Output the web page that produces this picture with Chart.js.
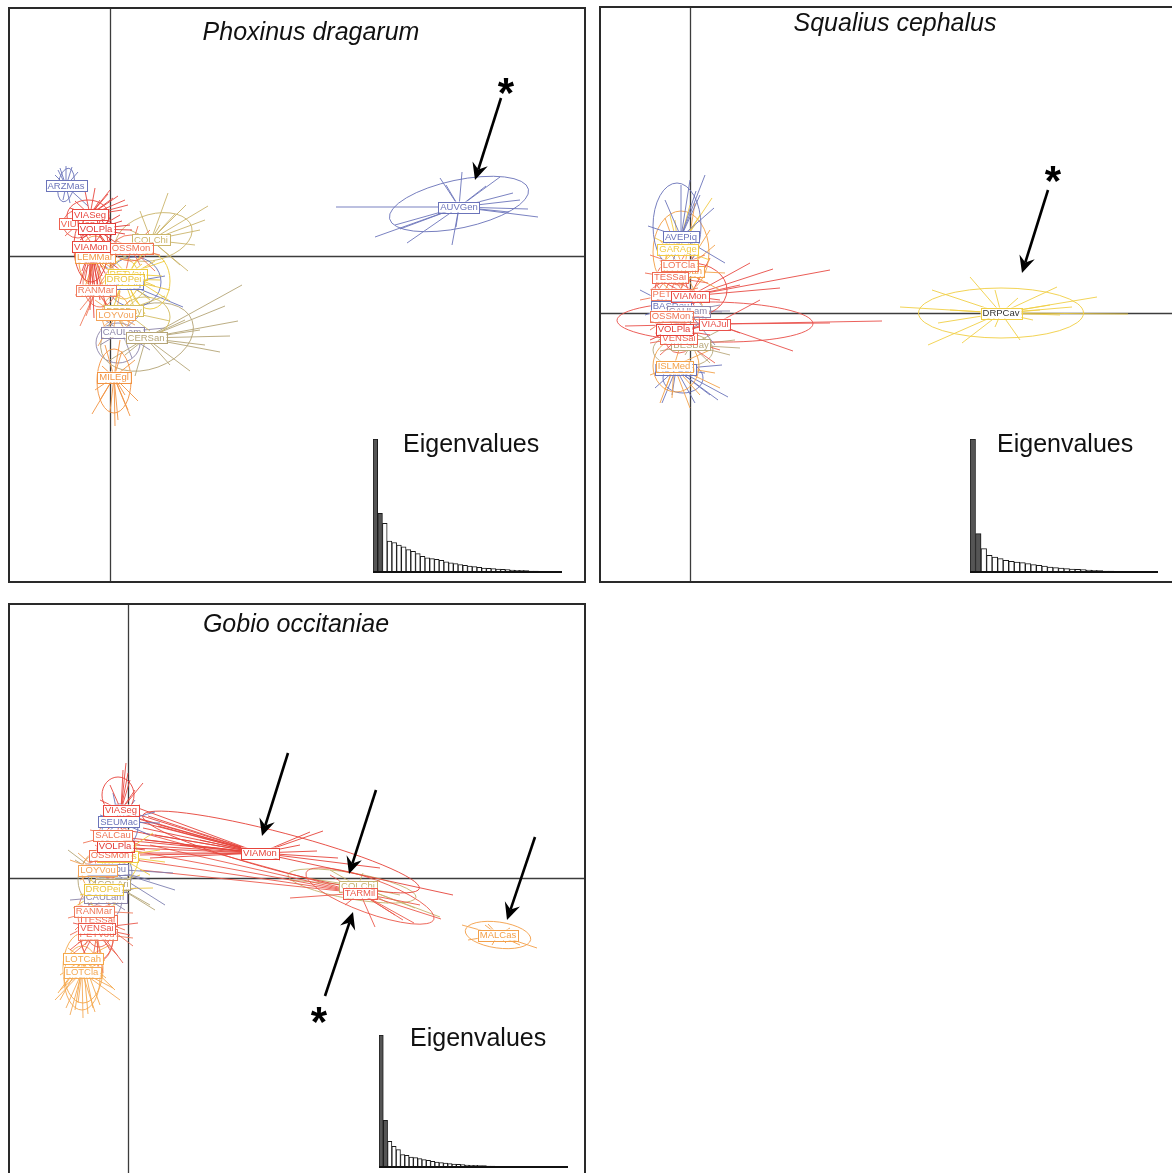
<!DOCTYPE html>
<html>
<head>
<meta charset="utf-8">
<script src="https://cdn.jsdelivr.net/npm/chart.js@4.4.1/dist/chart.umd.min.js"></script>
<style>
  html, body { margin: 0; padding: 0; background: #fff; overflow: hidden; width: 1172px; height: 1173px; }
  canvas { position: absolute; display: block; }
</style>
</head>
<body>
<canvas id="pd" width="578" height="576" style="left:8px;top:7px"></canvas>
<canvas id="sc" width="573" height="577" style="left:599px;top:6px"></canvas>
<canvas id="go" width="578" height="570" style="left:8px;top:603px"></canvas>
<canvas id="pdEig" width="200" height="150" style="left:370px;top:425px"></canvas>
<canvas id="scEig" width="200" height="150" style="left:966px;top:425px"></canvas>
<canvas id="goEig" width="200" height="150" style="left:376px;top:1021px"></canvas>
<script>
// ---------- Phoxinus dragarum ----------
const p1Groups = ['AUVGen','ARZMas','COLChi','CAULam','CERSan','MILEgl','AVEPiq','PETVou','DROPei','BESBay','LOYVou','RANMar','LEMMar','OSSMon','VIUMon','VIASeg','VOLPla','VIAMon'];
const p1Centroids = [[34.9,4.9],[-4.4,7.0],[4.1,1.6],[1.2,-7.6],[3.6,-8.2],[0.4,-12.1],[1.5,-2.7],[1.7,-1.8],[1.4,-2.3],[1.4,-5.5],[0.6,-5.9],[-1.4,-3.4],[-1.5,-0.1],[2.1,0.8],[-3.2,3.2],[-2.0,4.1],[-1.4,2.7],[-1.9,0.9]];
// [centre x, centre y, semi-axis 1, semi-axis 2, rotation in degrees]
const p1Ellipses = [[34.9,5.2,7.1,2.4,12],[-4.4,7.1,0.8,1.7,-10],[4.4,1.9,3.9,2.3,15],[0.8,-8.7,2.2,2.0,0],[3.7,-8.1,4.8,3.2,20],[0.4,-12.5,1.7,3.2,0],[2.4,-2.6,2.7,2.5,0],[4.0,-2.5,2.0,2.8,0],[1.4,-2.3,1.5,2.0,0],[3.5,-6.1,2.5,2.0,0],[0.6,-5.9,1.4,2.0,0],[-1.0,-2.7,1.7,2.4,0],[-1.5,-0.5,1.6,2.5,0],[2.1,0.8,1.8,1.3,0],[-3.2,3.2,1.5,1.4,0],[-2.2,4.0,2.1,1.6,0],[-1.4,2.7,1.6,2.0,0],[-1.9,0.9,1.7,3.5,0]];
const p1Points = [
  [[22.6,4.9],[42.8,3.9],[26.5,1.9],[29.7,1.3],[35.2,8.4],[34.2,1.1],[39.0,7.9],[37.6,7.0],[40.3,6.3],[41.0,5.6],[41.8,4.7],[39.9,4.4],[28.5,3.1],[29.0,2.7],[33.6,7.1],[33.0,7.8],[34.6,2.9]],
  [[-5.0,8.8],[-3.8,8.9],[-3.2,8.4],[-5.5,8.1],[-4.7,5.6],[-4.0,5.3],[-2.2,5.0],[-5.2,8.6],[-4.4,9.0]],
  [[5.8,6.3],[9.5,3.6],[8.5,1.1],[7.0,-0.9],[2.0,2.6],[1.0,-0.4],[7.6,5.1],[5.0,3.1],[6.5,4.2],[9.0,2.6],[9.8,5.0],[3.0,4.5],[7.8,-1.5]],
  [[4.0,-9.4],[-1.0,-8.9],[3.0,-5.9],[-0.5,-6.4],[2.2,-10.2],[5.5,-7.2]],
  [[13.2,-2.9],[11.0,-9.6],[9.0,-7.4],[7.5,-6.4],[0.0,-10.4],[1.5,-9.9],[9.5,-8.9],[6.0,-10.9],[11.5,-5.0],[12.8,-6.5],[2.5,-12.0],[8.0,-11.5],[12.0,-8.0]],
  [[0.8,-16.4],[0.0,-15.6],[1.8,-15.4],[-1.0,-14.4],[1.0,-8.4],[-0.5,-8.9],[2.5,-10.4],[-1.5,-13.4],[1.5,-13.9],[2.0,-16.0],[-0.8,-11.0],[0.5,-17.0],[2.8,-14.5],[-1.8,-15.8],[1.2,-9.5]],
  [[7.3,-5.1],[5.5,-2.0],[-0.5,-1.0],[4.0,-4.2]],
  [[5.5,-0.5],[6.0,-4.5],[4.5,-3.0],[0.0,0.0],[3.5,0.5],[5.2,-2.0]],
  [[4.0,-4.4],[-1.0,-0.9],[5.0,-2.4],[2.5,-5.4],[0.5,-4.4],[6.0,-3.4],[3.2,-0.8],[4.5,-0.5],[0.0,-6.0],[3.5,-5.8]],
  [[5.5,-4.0],[6.0,-6.5],[4.0,-7.5],[-0.5,-5.0],[3.5,-3.5]],
  [[-1.0,-7.4],[2.0,-4.4],[-1.5,-4.4],[2.5,-6.9],[0.2,-8.2],[1.8,-8.0],[-1.2,-9.0],[3.0,-8.5],[1.0,-3.5]],
  [[-3.0,-5.4],[0.5,-0.4],[-2.0,-1.4],[0.0,-5.4],[-3.5,-3.9],[-2.4,-6.0],[0.6,-2.8],[-3.0,-7.0],[1.0,-6.5],[-1.0,-1.0]],
  [[-3.0,-0.6],[0.5,-1.4],[-1.5,1.6],[-3.5,0.6],[-2.2,-2.8],[-0.6,-3.5],[0.8,-2.4],[-2.8,-4.0],[1.5,0.5]],
  [[4.0,2.6],[3.0,-0.9],[0.5,1.6],[5.0,0.1],[1.5,-1.9],[3.6,1.4],[4.5,-1.5],[2.8,3.0],[5.5,1.2]],
  [[-4.5,2.0],[-1.5,4.5],[-3.8,4.4],[-2.0,1.5],[-4.2,3.6]],
  [[0.0,6.6],[0.8,6.0],[1.8,5.1],[-4.0,4.8],[-2.0,2.0],[-1.0,5.6],[-3.0,3.1],[1.2,4.6],[-0.2,6.2],[-1.5,6.8],[0.3,5.8],[-3.5,5.5],[1.5,5.6],[-2.5,6.5]],
  [[1.0,4.1],[-0.2,0.6],[-3.0,1.6],[2.0,3.1],[-1.5,-0.9],[-2.5,4.1],[1.5,2.2],[0.4,0.2],[1.2,3.5],[-0.5,4.5],[-2.8,2.0],[0.8,1.2],[2.2,2.6]],
  [[-1.5,-3.4],[-1.0,-4.4],[-2.5,-2.4],[1.0,-1.4],[-3.2,-0.4],[-0.5,2.6],[-2.0,-5.4],[-1.2,-3.0],[-2.8,-1.5],[0.5,0.0],[-0.8,-2.0],[-2.2,-4.0],[0.2,-3.0],[-3.0,-2.8],[-1.6,-6.2],[-0.4,-5.0]]
];
const p1Colors = ['#6b74ba','#6b74ba','#cbb56c','#8d86aa','#b5a577','#f29443','#6b74ba','#eecb3e','#ebc43d','#d4bd62','#f3a257','#ef7b5d','#f39c48','#f07252','#ee6150','#e8473f','#e23a36','#e6443b'];
const p1Eigen = [39.7,17.5,14.5,9.2,8.8,8.0,7.5,6.7,6.2,5.5,4.7,4.2,4.0,3.8,3.5,3.0,2.7,2.5,2.2,2.0,1.8,1.6,1.4,1.2,1.1,1.0,0.9,0.8,0.7,0.6,0.5,0.5,0.4,0.3,0.3,0.2,0.2,0.2,0.1,0.1];
const p1Arrows = [[39.1,15.8,36.5,7.6]];
const p1Stars = [[39.6,17.0]];

// ---------- Squalius cephalus ----------
const p2Groups = ['DRPCav','AUVGen','ISLMed','BESBay','VENSai','VOLPla','VIAJul','BASDou','CAULam','OSSMon','PETVou','VIAMon','LOTCah','TESSai','LOTCla','GARAge','AVEPiq'];
const p2Centroids = [[31.1,0.0],[-1.4,-5.6],[-1.6,-5.3],[0.1,-3.2],[-1.1,-2.5],[-1.6,-1.6],[2.5,-1.1],[-1.9,0.7],[-0.2,0.2],[-1.9,-0.3],[-2.0,1.9],[0.0,1.7],[-0.6,4.2],[-2.0,3.6],[-1.1,4.8],[-1.2,6.4],[-0.9,7.6]];
const p2Ellipses = [[31.1,0.0,8.25,2.5,0],[-0.7,-6.5,2.0,1.5,0],[-1.4,-5.3,2.3,2.6,0],[-0.7,-3.7,3.0,1.7,0],[-1.1,-2.5,1.4,1.5,0],[-1.6,-1.6,1.3,1.4,0],[2.5,-0.9,9.8,2.0,-1],[-1.9,0.5,1.3,1.2,0],[-0.2,0.0,1.6,1.5,0],[-1.9,-0.3,1.3,1.4,0],[-2.0,1.8,1.2,1.4,0],[0.1,2.3,3.6,2.7,0],[-0.9,6.1,2.8,4.1,0],[-2.0,3.4,1.4,1.6,0],[-1.1,4.6,1.5,1.8,0],[-0.8,5.5,1.6,2.4,0],[-1.3,8.7,2.4,4.3,0]];
const p2Points = [
  [[21.0,0.6],[24.2,2.3],[28.0,3.6],[30.5,2.3],[32.8,1.5],[36.7,2.6],[40.7,1.6],[38.2,0.6],[43.8,-0.1],[35.0,0.3],[34.3,-0.7],[33.0,-2.7],[30.5,-1.4],[27.2,-3.0],[23.8,-3.2],[24.8,-1.0],[29.0,-0.4],[26.0,0.3],[36.0,0.8],[37.0,-0.2]],
  [[2.0,-8.2],[2.8,-8.7],[-1.8,-8.2],[-3.5,-7.5],[1.5,-6.0],[3.2,-5.2],[0.5,-9.0],[3.8,-8.4],[-2.8,-9.0]],
  [[-2.5,-7.7],[1.0,-8.2],[-4.0,-6.2],[2.0,-3.7],[-0.5,-1.7],[-1.8,-8.5],[2.5,-6.0],[-3.0,-9.0],[0.0,-9.5],[3.0,-7.5]],
  [[4.5,-2.7],[4.0,-4.2],[-0.5,-4.2],[3.0,-1.7],[5.0,-3.5],[-3.0,-3.8],[2.0,-5.0]],
  [[3.0,-3.7],[-3.0,-4.2],[1.0,-1.2],[-3.5,-2.0],[2.5,-5.0],[-4.0,-3.0]],
  [[-4.0,-2.7],[1.0,-3.2],[-2.5,0.3],[0.5,-0.5],[-4.0,-0.8],[2.0,-2.2]],
  [[19.2,-0.8],[10.3,-3.8],[5.0,-2.0],[-4.0,-0.7],[-1.0,-1.7],[7.0,1.3],[14.0,-1.0],[1.0,-0.2],[-3.0,-2.2],[-6.5,-1.3]],
  [[-5.0,2.3],[-2.0,-0.7],[-4.5,-0.2],[0.5,1.0]],
  [[3.0,0.8],[3.2,0.1],[2.5,-3.2],[-3.0,1.3],[4.0,0.2]],
  [[-4.0,-1.7],[1.0,-0.7],[-3.0,1.3],[0.2,-2.4]],
  [[-5.0,1.3],[-1.5,3.3],[-3.5,-0.2],[0.8,2.5]],
  [[8.3,4.4],[14.0,4.3],[5.0,2.8],[-3.0,3.3],[1.0,-0.7],[-1.0,4.8],[3.0,1.3],[9.0,2.5],[-2.0,0.5],[6.0,5.0],[-3.5,2.0],[2.0,5.5]],
  [[2.0,8.3],[3.0,2.3],[-1.0,1.3],[1.5,0.3],[-3.0,7.3],[2.5,6.8],[-3.3,3.0],[0.5,11.0],[-2.5,9.5],[3.5,4.0]],
  [[-4.0,2.3],[0.5,4.8],[-3.0,5.3],[1.0,1.8],[-4.5,4.0],[1.8,3.0]],
  [[-4.0,5.8],[1.0,3.3],[-2.5,2.3],[0.0,6.8],[1.5,5.8]],
  [[0.0,10.8],[1.0,9.8],[-2.0,9.8],[2.0,5.3],[-3.0,4.8],[0.5,8.8],[-1.5,9.3],[2.2,11.5],[-3.5,7.5]],
  [[1.5,13.8],[0.0,13.3],[-0.9,12.8],[-4.2,8.7],[3.5,5.0],[1.0,11.8],[-2.5,11.3],[-2.0,4.3],[0.6,12.2],[2.4,10.5]]
];
const p2Colors = ['#f1cf46','#6b74ba','#f3a24a','#b9a97c','#ec6452','#e4403a','#e9504a','#6b74ba','#8d86aa','#ef7556','#f07a5c','#e84a44','#f3a24a','#ee6a52','#f07556','#f2cb45','#6b74ba'];
const p2LabelInk = { DRPCav: '#333333' };
const p2Eigen = [39.8,11.5,7.0,5.0,4.5,4.0,3.5,3.2,3.0,2.8,2.5,2.2,2.0,1.8,1.5,1.3,1.2,1.0,0.9,0.8,0.7,0.6,0.5,0.4,0.3,0.3,0.2,0.2,0.1,0.1,0.1,0.1,0.1,0.1];
const p2Arrows = [[35.8,12.3,33.2,4.0]];
const p2Stars = [[36.3,13.9]];

// ---------- Gobio occitaniae ----------
const p3Groups = ['MALCas','COLChi','TARMil','VIAMon','LOTCla','LOTCah','PETVou','TESSai','VENSai','RANMar','CAULam','COLAri','DROPei','BESBou','LOYVou','DURNes','OSSMon','VOLPla','SALCau','SEUMac','VIASeg'];
const p3Centroids = [[37.0,-5.7],[23.0,-0.8],[23.2,-1.5],[13.2,2.5],[-4.6,-9.4],[-4.5,-8.1],[-3.1,-5.6],[-2.9,-4.2],[-3.1,-5.0],[-3.4,-3.3],[-2.3,-1.9],[-1.5,-0.6],[-2.5,-1.1],[-2.0,0.9],[-3.0,0.8],[-1.0,2.2],[-1.8,2.3],[-1.3,3.2],[-1.5,4.3],[-0.9,5.6],[-0.7,6.8]];
const p3Ellipses = [[37.0,-5.7,3.3,1.3,-8],[22.4,-0.8,6.5,1.3,-10],[24.2,-1.8,6.8,1.7,-20],[15.3,2.6,14.3,1.9,-14.8],[-4.6,-10.0,1.8,3.2,0],[-4.5,-9.0,2.0,3.5,0],[-3.1,-6.0,1.6,2.4,0],[-2.9,-4.5,1.5,2.4,0],[-3.1,-5.5,1.7,2.8,0],[-3.4,-3.6,1.6,2.6,0],[-2.3,-2.1,1.7,2.2,0],[-2.5,-0.2,2.5,2.8,0],[-2.5,-1.3,1.5,2.0,0],[-1.8,0.5,2.2,2.5,0],[-3.0,0.6,1.6,2.0,0],[-0.8,2.0,1.8,2.4,0],[-1.8,2.0,1.5,2.0,0],[-1.3,3.0,1.4,2.2,0],[-1.5,4.0,1.5,1.8,0],[-0.8,5.2,1.8,2.2,0],[-1.0,8.3,1.6,1.8,0]];
const p3Points = [
  [[33.4,-4.7],[40.9,-7.0],[34.0,-6.2],[35.7,-4.7],[38.2,-5.0],[39.2,-6.7],[36.4,-6.7],[37.8,-6.5],[36.0,-4.6]],
  [[17.2,0.1],[16.2,-0.2],[28.7,-3.0],[31.2,-3.9],[27.2,-1.7],[20.2,0.8],[25.2,-0.2],[23.5,0.5],[26.0,-2.5]],
  [[28.6,-4.5],[24.7,-4.9],[31.3,-4.1],[16.2,-2.0],[0.2,2.8],[0.7,1.8],[1.2,0.8],[2.2,3.3],[29.2,-2.7],[20.2,0.3],[21.7,-2.7],[26.7,-3.7],[27.5,-4.2],[1.5,4.5]],
  [[0.2,6.6],[0.7,6.0],[1.2,5.6],[-0.3,4.8],[0.2,4.0],[1.7,3.8],[0.7,3.3],[1.2,2.3],[2.2,2.0],[0.2,3.0],[2.7,4.3],[19.5,4.7],[18.2,4.6],[25.2,1.0],[32.5,-1.7],[18.9,2.7],[17.2,3.3],[15.2,1.8],[5.2,3.3],[7.2,3.8],[3.0,5.2],[1.0,7.0],[21.0,2.0],[-0.8,6.5],[1.5,5.0],[2.0,6.2],[0.5,2.5],[-0.5,3.8]],
  [[-5.8,-13.7],[-3.3,-13.4],[-0.8,-12.2],[-6.8,-11.2],[-2.3,-8.2],[-7.3,-12.2],[-4.5,-14.0],[-5.0,-12.5],[-1.5,-11.0],[-6.2,-13.0]],
  [[-6.8,-12.2],[-5.3,-13.2],[-2.8,-12.7],[-1.3,-11.2],[-6.8,-9.7],[-1.8,-6.7],[-6.3,-10.7],[-3.5,-13.0],[-7.0,-11.5],[-2.2,-10.0],[-4.0,-13.6],[-6.0,-7.0]],
  [[-5.0,-6.5],[-1.0,-7.8],[0.5,-6.0],[-4.0,-4.0],[-2.5,-9.5],[-6.0,-8.0]],
  [[-5.8,-5.7],[-0.3,-5.2],[-4.3,-6.7],[-1.5,-3.0],[-3.5,-8.0],[0.5,-6.8]],
  [[0.2,-5.7],[-5.8,-7.2],[-1.8,-7.2],[-4.8,-8.2],[1.0,-4.5],[-0.5,-8.5],[-5.5,-4.5],[-3.0,-9.0]],
  [[-5.3,-5.2],[-1.3,-4.7],[-4.8,-2.7],[-0.8,-2.2],[-2.0,-6.0],[-6.0,-4.0],[0.5,-3.5]],
  [[-5.8,-2.2],[-0.3,-3.2],[-4.3,-3.7],[0.8,-1.0]],
  [[-4.3,0.8],[-5.3,1.8],[2.2,-2.7],[2.7,-3.2],[-3.3,-2.2],[-6.0,2.8]],
  [[0.2,-1.2],[-4.8,-1.7],[-1.8,-2.7],[1.2,0.3],[-4.0,0.0],[-5.5,-3.0],[2.5,-1.0]],
  [[4.7,-1.2],[3.7,-2.7],[2.2,-0.2],[-1.8,-0.2],[4.5,0.5]],
  [[-5.8,1.8],[-4.8,-0.2],[-0.8,0.3],[-3.3,-1.2],[-5.0,2.5]],
  [[3.2,2.8],[2.2,0.3],[-1.3,1.8],[3.7,1.6],[2.5,4.5]],
  [[-4.3,1.3],[1.2,1.8],[-3.3,3.3],[-2.0,0.5]],
  [[-3.8,2.3],[1.7,2.8],[-2.8,4.3],[-0.8,1.3],[0.5,4.0]],
  [[-3.8,4.8],[1.2,3.3],[-2.8,2.8],[0.2,5.3],[-4.5,3.5]],
  [[2.7,6.6],[-2.8,6.3],[2.2,4.3],[-2.3,4.3],[0.7,7.8],[3.2,5.5],[-1.5,8.5]],
  [[0.0,10.5],[-1.8,9.3],[0.7,8.8],[-2.8,7.8],[1.2,7.3],[-1.0,4.8],[0.2,9.8],[-0.5,10.8],[-0.2,11.5],[1.5,9.5]]
];
const p3Colors = ['#f3a04a','#c6b36e','#ec5a4c','#e6443b','#f4aa56','#f5a84a','#f07a5c','#ee6a52','#e9574a','#ef7b5d','#8d86aa','#b5a577','#ebc43d','#7d80b0','#f3a257','#eecb3e','#f07252','#e23a36','#ef7556','#6b74ba','#e8473f'];
const p3Eigen = [39.5,14.0,7.7,6.2,5.2,3.7,3.5,3.0,2.8,2.5,2.2,2.0,1.7,1.5,1.3,1.2,1.0,0.9,0.8,0.7,0.6,0.5,0.5,0.4,0.4,0.3,0.3,0.2,0.2,0.2,0.1,0.1,0.1,0.1,0.1,0.1,0.05,0.05,0.05,0.05,0.05,0.05,0.05,0.05];
const p3Arrows = [[16.0,12.5,13.4,4.2],[24.8,8.8,22.1,0.4],[40.7,4.1,37.9,-4.2],[19.7,-11.8,22.5,-3.4]];
const p3Stars = [[19.1,-13.7]];

// ---------- drawing ----------
const FONT = '"Liberation Sans", Arial, Helvetica, sans-serif';
Chart.defaults.font.family = FONT;

function seg(ctx, x1, y1, x2, y2) {
  ctx.beginPath(); ctx.moveTo(x1, y1); ctx.lineTo(x2, y2); ctx.stroke();
}

function arrow(ctx, x1, y1, x2, y2) {
  const ang = Math.atan2(y2 - y1, x2 - x1);
  const L = 17, W = 8, N = 11;
  const bx = x2 - Math.cos(ang) * N, by = y2 - Math.sin(ang) * N;
  ctx.lineWidth = 2.6; ctx.strokeStyle = '#000'; ctx.fillStyle = '#000';
  seg(ctx, x1, y1, bx, by);
  const cx = x2 - Math.cos(ang) * L, cy = y2 - Math.sin(ang) * L;
  const px = -Math.sin(ang) * W, py = Math.cos(ang) * W;
  ctx.beginPath();
  ctx.moveTo(x2, y2);
  ctx.lineTo(cx + px, cy + py);
  ctx.lineTo(bx, by);
  ctx.lineTo(cx - px, cy - py);
  ctx.closePath(); ctx.fill();
}

const dapcPlugin = {
  id: 'dapc',
  beforeDatasetsDraw(chart) {
    const o = chart.options.plugins.dapc;
    const { ctx, chartArea: a } = chart;
    const sx = chart.scales.x, sy = chart.scales.y;
    ctx.save();
    ctx.beginPath(); ctx.rect(a.left, a.top, a.width, a.height); ctx.clip();
    // axes through the origin
    ctx.strokeStyle = '#3c3c3c'; ctx.lineWidth = 1.3;
    const x0 = Math.round(sx.getPixelForValue(0)) + 0.5;
    const y0 = Math.round(sy.getPixelForValue(0)) + 0.5;
    seg(ctx, a.left, y0, a.right, y0);
    seg(ctx, x0, a.top, x0, a.bottom);
    const kx = Math.abs(sx.getPixelForValue(1) - sx.getPixelForValue(0));
    const ky = Math.abs(sy.getPixelForValue(1) - sy.getPixelForValue(0));
    o.groups.forEach((g, i) => {
      const c = o.centroids[i];
      const cx = sx.getPixelForValue(c[0]), cy = sy.getPixelForValue(c[1]);
      ctx.strokeStyle = o.colors[i]; ctx.lineWidth = 1; ctx.globalAlpha = 0.9;
      chart.getDatasetMeta(i).data.forEach(el => seg(ctx, cx, cy, el.x, el.y));
      const e = o.ellipses[i];
      ctx.globalAlpha = 0.92;
      ctx.beginPath();
      ctx.ellipse(sx.getPixelForValue(e[0]), sy.getPixelForValue(e[1]), e[2] * kx, e[3] * ky, -e[4] * Math.PI / 180, 0, Math.PI * 2);
      ctx.stroke();
    });
    ctx.restore();
  },
  afterDatasetsDraw(chart) {
    const o = chart.options.plugins.dapc;
    const { ctx, chartArea: a } = chart;
    const sx = chart.scales.x, sy = chart.scales.y;
    ctx.save();
    // group labels
    ctx.font = '9.5px ' + FONT;
    ctx.textAlign = 'center'; ctx.textBaseline = 'middle';
    o.groups.forEach((g, i) => {
      const c = o.centroids[i];
      const cx = sx.getPixelForValue(c[0]), cy = sy.getPixelForValue(c[1]);
      const w = ctx.measureText(g).width + 4, h = 11;
      ctx.fillStyle = '#fff';
      ctx.fillRect(cx - w / 2, cy - h / 2, w, h);
      ctx.strokeStyle = o.colors[i]; ctx.lineWidth = 1;
      ctx.strokeRect(Math.round(cx - w / 2) + 0.5, Math.round(cy - h / 2) + 0.5, Math.round(w), h);
      ctx.fillStyle = (o.ink && o.ink[g]) || o.colors[i];
      ctx.fillText(g, cx, cy + 0.5);
    });
    // frame
    ctx.strokeStyle = '#2a2a2a'; ctx.lineWidth = 2;
    const L = a.left + 1, T = a.top + 1, R = a.right - 1, B = a.bottom - 1;
    if (o.frame.includes('t')) seg(ctx, L - 1, T, R + 1, T);
    if (o.frame.includes('b')) seg(ctx, L - 1, B, R + 1, B);
    if (o.frame.includes('l')) seg(ctx, L, T - 1, L, B + 1);
    if (o.frame.includes('r')) seg(ctx, R, T - 1, R, B + 1);
    // species name
    ctx.fillStyle = '#111';
    ctx.font = 'italic 25px ' + FONT;
    ctx.textAlign = 'center'; ctx.textBaseline = 'alphabetic';
    ctx.fillText(o.title, o.titleX, o.titleY);
    // arrows and asterisks
    o.arrows.forEach(r => arrow(ctx, sx.getPixelForValue(r[0]), sy.getPixelForValue(r[1]), sx.getPixelForValue(r[2]), sy.getPixelForValue(r[3])));
    ctx.fillStyle = '#000';
    ctx.font = 'bold 42px ' + FONT;
    ctx.textAlign = 'center';
    o.stars.forEach(s => {
      const m = ctx.measureText('*');
      const px = sx.getPixelForValue(s[0]), py = sy.getPixelForValue(s[1]);
      ctx.fillText('*', px, py + (m.actualBoundingBoxAscent - m.actualBoundingBoxDescent) / 2);
    });
    ctx.restore();
  }
};

function dapcChart(id, groups, centroids, ellipses, points, colors, arrows, stars, view) {
  const datasets = groups.map((g, i) => ({
    label: g,
    data: points[i].map(p => ({ x: p[0], y: p[1] })),
    pointRadius: 0,
    pointHoverRadius: 0,
    showLine: false
  }));
  return new Chart(document.getElementById(id), {
    type: 'scatter',
    data: { datasets },
    options: {
      responsive: false,
      animation: false,
      events: [],
      layout: { padding: 0 },
      scales: {
        x: { type: 'linear', display: false, min: view.xmin, max: view.xmax },
        y: { type: 'linear', display: false, min: view.ymin, max: view.ymax }
      },
      plugins: {
        legend: { display: false },
        tooltip: { enabled: false },
        dapc: {
          groups, centroids, ellipses, colors, arrows, stars,
          ink: view.ink, frame: view.frame,
          title: view.title, titleX: view.titleX, titleY: view.titleY
        }
      }
    },
    plugins: [dapcPlugin]
  });
}

const eigenPlugin = {
  id: 'eigenNote',
  afterDraw(chart) {
    const o = chart.options.plugins.eigenNote;
    const { ctx, chartArea: a } = chart;
    const y0 = chart.scales.y.getPixelForValue(0);
    ctx.save();
    ctx.strokeStyle = '#111'; ctx.lineWidth = 2;
    seg(ctx, a.left, y0, a.right, y0);
    ctx.fillStyle = '#111';
    ctx.font = '25px ' + FONT;
    ctx.textAlign = 'left'; ctx.textBaseline = 'alphabetic';
    ctx.fillText('Eigenvalues', o.x, o.y);
    ctx.restore();
  }
};

function eigenChart(id, values, pad, textX, textY) {
  return new Chart(document.getElementById(id), {
    type: 'bar',
    data: {
      labels: values.map((v, i) => String(i + 1)),
      datasets: [{
        data: values,
        backgroundColor: values.map((v, i) => i < 2 ? '#555555' : '#ffffff'),
        borderColor: '#1a1a1a',
        borderWidth: 1,
        borderSkipped: false,
        categoryPercentage: 1,
        barPercentage: 1
      }]
    },
    options: {
      responsive: false,
      animation: false,
      events: [],
      layout: { padding: pad },
      scales: {
        x: { display: false },
        y: { display: false, min: 0, max: Math.max(...values) }
      },
      plugins: {
        legend: { display: false },
        tooltip: { enabled: false },
        eigenNote: { x: textX, y: textY }
      }
    },
    plugins: [eigenPlugin]
  });
}

dapcChart('pd', p1Groups, p1Centroids, p1Ellipses, p1Points, p1Colors, p1Arrows, p1Stars,
  { xmin: -10.2, xmax: 47.6, ymin: -32.7, ymax: 24.9, frame: 'tblr', title: 'Phoxinus dragarum', titleX: 303, titleY: 33 });
dapcChart('sc', p2Groups, p2Centroids, p2Ellipses, p2Points, p2Colors, p2Arrows, p2Stars,
  { xmin: -9.1, xmax: 48.2, ymin: -27.0, ymax: 30.7, frame: 'tbl', ink: p2LabelInk, title: 'Squalius cephalus', titleX: 296, titleY: 25 });
dapcChart('go', p3Groups, p3Centroids, p3Ellipses, p3Points, p3Colors, p3Arrows, p3Stars,
  { xmin: -12.0, xmax: 45.8, ymin: -29.5, ymax: 27.5, frame: 'tlr', title: 'Gobio occitaniae', titleX: 288, titleY: 29 });

eigenChart('pdEig', p1Eigen, { left: 3, top: 14, right: 8, bottom: 3 }, 33, 27);
eigenChart('scEig', p2Eigen, { left: 4, top: 14, right: 8, bottom: 3 }, 31, 27);
eigenChart('goEig', p3Eigen, { left: 3, top: 14, right: 8, bottom: 4 }, 34, 25);
</script>
</body>
</html>
